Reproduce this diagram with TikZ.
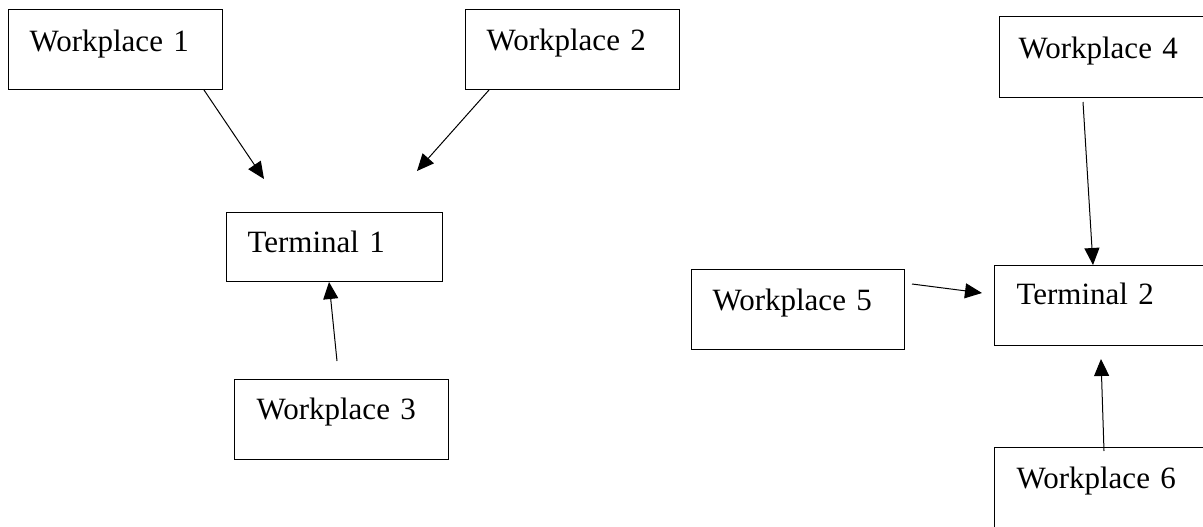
\documentclass[tikz,border=0pt]{standalone}
\usepackage{fontspec}
\setmainfont{Liberation Serif}
\usetikzlibrary{arrows.meta}
\tikzset{
  box/.style={draw, rectangle, anchor=north west, inner ysep=0pt, align=left, line width=1pt,
    font=\fontsize{31}{31}\selectfont},
  arr/.style={line width=1pt, -{Triangle[length=17pt,width=15pt]}}
}
\begin{document}
\begin{tikzpicture}[x=1pt,y=-1pt]
\useasboundingbox (0,0) rectangle (1203,527);
\node[box, text height=42pt, text depth=38pt, inner xsep=21pt, text width=172pt] (w1) at (8,9) {Workplace 1};
\node[box, text height=41pt, text depth=39pt, inner xsep=21pt, text width=172pt] (w2) at (465,9) {Workplace 2};
\node[box, text height=40pt, text depth=29pt, inner xsep=21pt, text width=174pt] (t1) at (226,212) {Terminal 1};
\node[box, text height=40pt, text depth=40pt, inner xsep=22pt, text width=170pt] (w3) at (234,379) {Workplace 3};
\node[box, text height=42pt, text depth=39pt, inner xsep=19pt, text width=176pt] (w4) at (999,16) {Workplace 4};
\node[box, text height=41pt, text depth=39pt, inner xsep=21pt, text width=171pt] (w5) at (691,269) {Workplace 5};
\node[box, text height=39pt, text depth=41pt, inner xsep=22pt, text width=170pt] (t2) at (994,265) {Terminal 2};
\node[box, text height=41pt, text depth=80pt, inner xsep=22pt, text width=170pt] (w6) at (994,447) {Workplace 6};
\draw[arr] ([xshift=196pt]w1.south west) -- ([xshift=38pt,yshift=33pt]t1.north west);
\draw[arr] ([xshift=24pt]w2.south west) -- ([xshift=191pt,yshift=41pt]t1.north west);
\draw[arr] ([xshift=103pt,yshift=18pt]w3.north west) -- ([xshift=103pt]t1.south west);
\draw[arr] ([xshift=84pt,yshift=-4pt]w4.south west) -- ([xshift=99pt]t2.north west);
\draw[arr] ([xshift=7pt,yshift=-15pt]w5.north east) -- ([xshift=-12pt,yshift=-28pt]t2.north west);
\draw[arr] ([xshift=110pt,yshift=-4pt]w6.north west) -- ([xshift=107pt,yshift=-13pt]t2.south west);
\end{tikzpicture}
\end{document}
